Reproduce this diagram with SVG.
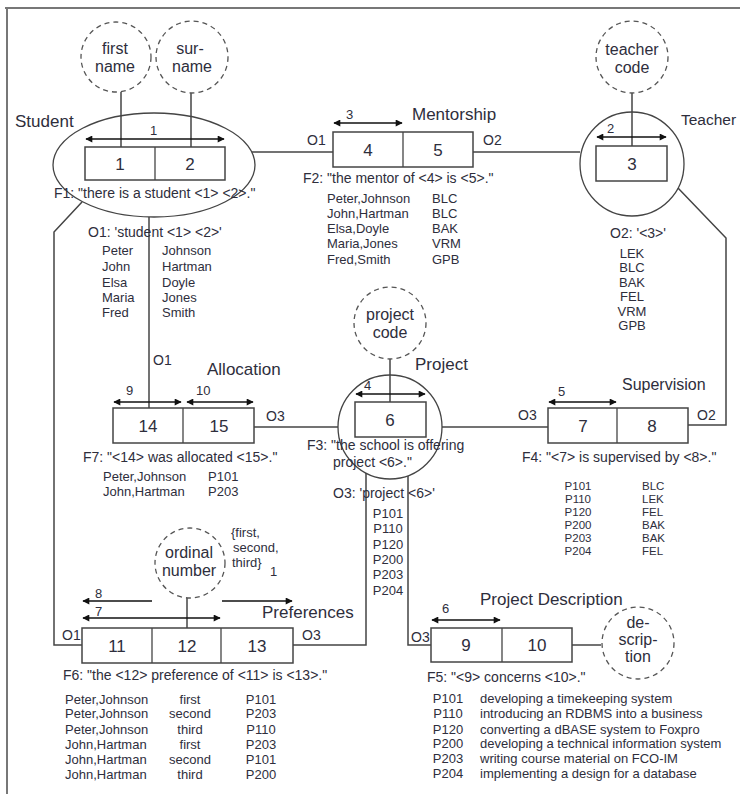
<svg xmlns="http://www.w3.org/2000/svg" width="740" height="794" viewBox="0 0 740 794">
<style>
text{font-family:"Liberation Sans",Arial,sans-serif;fill:#2e2e3c}
.t{font-size:17px}
.n{font-size:17px;text-anchor:middle}
.c{font-size:16px;text-anchor:middle}
.l{font-size:14px}
.a{font-size:13px}
.d{font-size:13px}
.s{font-size:11.5px}
.m{text-anchor:middle}
.box{fill:#fff;stroke:#444;stroke-width:1.5}
.div{stroke:#444;stroke-width:1.3}
.ent{fill:none;stroke:#444;stroke-width:1.3}
.lbl{fill:#fff;stroke:#555;stroke-width:1.3;stroke-dasharray:5 4}
.ln{fill:none;stroke:#444;stroke-width:1.5}
.arr{stroke:#111;stroke-width:1.5;marker-end:url(#ah);marker-start:url(#ah)}
.arr1{stroke:#111;stroke-width:1.5;marker-end:url(#ah)}
</style>
<defs>
<marker id="ah" viewBox="0 0 10 10" refX="9" refY="5" markerWidth="8" markerHeight="7" markerUnits="userSpaceOnUse" orient="auto-start-reverse">
<path d="M0,0 L10,5 L0,10 z" fill="#111"/>
</marker>
</defs>
<g id="frame">
<path d="M5,8 H740 M7,8 V794" fill="none" stroke="#777" stroke-width="2"/>
</g>
<g id="connectors">
<path class="ln" d="M121,92 V147"/>
<path class="ln" d="M191,92 V147"/>
<path class="ln" d="M632,92 V146"/>
<path class="ln" d="M390,358 V402"/>
<path class="ln" d="M187,598 V628"/>
<path class="ln" d="M572,645 H601"/>
<path class="ln" d="M252,152 H333"/>
<path class="ln" d="M473,152 H580"/>
<path class="ln" d="M149,217 V408"/>
<path class="ln" d="M82,202 L54,232 V645 H82"/>
<path class="ln" d="M254,427 H338"/>
<path class="ln" d="M442,427 H548"/>
<path class="ln" d="M688,425 H726 V238 L678,188"/>
<path class="ln" d="M366,473 V645 H293"/>
<path class="ln" d="M408,476 V645 H431"/>
</g>
<g id="student">
<ellipse class="ent" cx="154" cy="165" rx="101" ry="52"/>
<rect class="box" x="85" y="147" width="140" height="33"/>
<line class="div" x1="155" y1="147" x2="155" y2="180"/>
<text class="n" x="120" y="170">1</text>
<text class="n" x="190" y="170">2</text>
<line class="arr" x1="86" y1="139" x2="224" y2="139"/>
<text class="a" x="150" y="135">1</text>
<text class="t" x="15" y="127">Student</text>
<text class="l" x="54" y="198">F1: "there is a student &lt;1&gt; &lt;2&gt;."</text>
<text class="l" x="88" y="237">O1: 'student &lt;1&gt; &lt;2&gt;'</text>
<text class="d" x="102" y="255">Peter</text>
<text class="d" x="102" y="271">John</text>
<text class="d" x="102" y="287">Elsa</text>
<text class="d" x="102" y="302">Maria</text>
<text class="d" x="102" y="317">Fred</text>
<text class="d" x="162" y="255">Johnson</text>
<text class="d" x="162" y="271">Hartman</text>
<text class="d" x="162" y="287">Doyle</text>
<text class="d" x="162" y="302">Jones</text>
<text class="d" x="162" y="317">Smith</text>
</g>
<g id="first-name">
<circle class="lbl" cx="116" cy="57" r="35"/>
<text class="c" x="115" y="54">first</text>
<text class="c" x="115" y="72">name</text>
</g>
<g id="surname">
<circle class="lbl" cx="192" cy="57" r="36"/>
<text class="c" x="190" y="54">sur-</text>
<text class="c" x="192" y="72">name</text>
</g>
<g id="mentorship">
<rect class="box" x="333" y="132" width="140" height="35"/>
<line class="div" x1="403" y1="132" x2="403" y2="167"/>
<text class="n" x="368" y="156">4</text>
<text class="n" x="438" y="156">5</text>
<line class="arr" x1="334" y1="123" x2="402" y2="123"/>
<text class="a" x="346" y="119">3</text>
<text class="t" x="412" y="120">Mentorship</text>
<text class="l" x="307" y="145">O1</text>
<text class="l" x="483" y="145">O2</text>
<text class="l" x="303" y="183">F2: "the mentor of &lt;4&gt; is &lt;5&gt;."</text>
<text class="d" x="327" y="203">Peter,Johnson</text>
<text class="d" x="327" y="218">John,Hartman</text>
<text class="d" x="327" y="233">Elsa,Doyle</text>
<text class="d" x="327" y="248">Maria,Jones</text>
<text class="d" x="327" y="264">Fred,Smith</text>
<text class="d" x="432" y="203">BLC</text>
<text class="d" x="432" y="218">BLC</text>
<text class="d" x="432" y="233">BAK</text>
<text class="d" x="432" y="248">VRM</text>
<text class="d" x="432" y="264">GPB</text>
</g>
<g id="teacher">
<circle class="ent" cx="632" cy="164" r="52"/>
<rect class="box" x="596" y="146" width="71" height="35"/>
<text class="n" x="632" y="170">3</text>
<line class="arr" x1="597" y1="137" x2="666" y2="137"/>
<text class="a" x="607" y="133">2</text>
<text class="t" x="681" y="125" style="font-size:15.5px">Teacher</text>
<text class="l" x="610" y="238">O2: '&lt;3&gt;'</text>
<text class="d m" x="632" y="258">LEK</text>
<text class="d m" x="632" y="272">BLC</text>
<text class="d m" x="632" y="287">BAK</text>
<text class="d m" x="632" y="301">FEL</text>
<text class="d m" x="632" y="316">VRM</text>
<text class="d m" x="632" y="330">GPB</text>
</g>
<g id="teacher-code">
<circle class="lbl" cx="632" cy="57" r="36"/>
<text class="c" x="632" y="55">teacher</text>
<text class="c" x="632" y="73">code</text>
</g>
<g id="allocation">
<rect class="box" x="113" y="408" width="141" height="35"/>
<line class="div" x1="183" y1="408" x2="183" y2="443"/>
<text class="n" x="148" y="432">14</text>
<text class="n" x="219" y="432">15</text>
<line class="arr" x1="114" y1="402" x2="181" y2="402"/>
<line class="arr" x1="187" y1="402" x2="253" y2="402"/>
<text class="a" x="126" y="395">9</text>
<text class="a" x="196" y="395">10</text>
<text class="t" x="207" y="375">Allocation</text>
<text class="l" x="153" y="365">O1</text>
<text class="l" x="266" y="421">O3</text>
<text class="l" x="83" y="462">F7: "&lt;14&gt; was allocated &lt;15&gt;."</text>
<text class="d" x="103" y="481">Peter,Johnson</text>
<text class="d" x="103" y="496">John,Hartman</text>
<text class="d" x="208" y="481">P101</text>
<text class="d" x="208" y="496">P203</text>
</g>
<g id="project">
<circle class="ent" cx="390" cy="427" r="52"/>
<rect class="box" x="355" y="402" width="71" height="35"/>
<text class="n" x="390" y="426">6</text>
<line class="arr" x1="356" y1="394" x2="425" y2="394"/>
<text class="a" x="364" y="390">4</text>
<text class="t" x="415" y="370">Project</text>
<text class="l" x="307" y="450">F3: "the school is offering</text>
<text class="l" x="333" y="467">project &lt;6&gt;."</text>
<text class="l" x="333" y="498">O3: 'project &lt;6&gt;'</text>
<text class="d m" x="388" y="518">P101</text>
<text class="d m" x="388" y="533">P110</text>
<text class="d m" x="388" y="549">P120</text>
<text class="d m" x="388" y="564">P200</text>
<text class="d m" x="388" y="579">P203</text>
<text class="d m" x="388" y="595">P204</text>
</g>
<g id="project-code">
<circle class="lbl" cx="390" cy="323" r="36"/>
<text class="c" x="390" y="320">project</text>
<text class="c" x="390" y="338">code</text>
</g>
<g id="supervision">
<rect class="box" x="548" y="408" width="140" height="35"/>
<line class="div" x1="617" y1="408" x2="617" y2="443"/>
<text class="n" x="583" y="432">7</text>
<text class="n" x="652" y="432">8</text>
<line class="arr" x1="549" y1="402" x2="616" y2="402"/>
<text class="a" x="558" y="396">5</text>
<text class="t" x="622" y="390" style="font-size:16px">Supervision</text>
<text class="l" x="518" y="420">O3</text>
<text class="l" x="697" y="420">O2</text>
<text class="l" x="522" y="462">F4: "&lt;7&gt; is supervised by &lt;8&gt;."</text>
<text class="s m" x="578" y="490">P101</text>
<text class="s m" x="578" y="503">P110</text>
<text class="s m" x="578" y="516">P120</text>
<text class="s m" x="578" y="529">P200</text>
<text class="s m" x="578" y="542">P203</text>
<text class="s m" x="578" y="555">P204</text>
<text class="s" x="642" y="490">BLC</text>
<text class="s" x="642" y="503">LEK</text>
<text class="s" x="642" y="516">FEL</text>
<text class="s" x="642" y="529">BAK</text>
<text class="s" x="642" y="542">BAK</text>
<text class="s" x="642" y="555">FEL</text>
</g>
<g id="preferences">
<rect class="box" x="82" y="628" width="211" height="35"/>
<line class="div" x1="152" y1="628" x2="152" y2="663"/>
<line class="div" x1="221" y1="628" x2="221" y2="663"/>
<text class="n" x="117" y="652">11</text>
<text class="n" x="187" y="652">12</text>
<text class="n" x="257" y="652">13</text>
<line class="arr" x1="83" y1="618" x2="220" y2="618"/>
<line class="arr1" x1="152" y1="601" x2="83" y2="601"/>
<line class="arr1" x1="222" y1="601" x2="292" y2="601"/>
<text class="a" x="95" y="598">8</text>
<text class="a" x="95" y="616">7</text>
<text class="t" x="262" y="618">Preferences</text>
<text class="l" x="62" y="640">O1</text>
<text class="l" x="302" y="640">O3</text>
<text class="a" x="231" y="537">{first,</text>
<text class="a" x="233" y="552">second,</text>
<text class="a" x="232" y="567">third}</text>
<text class="a" x="270" y="576">1</text>
<text class="l" x="63" y="680">F6: "the &lt;12&gt; preference of &lt;11&gt; is &lt;13&gt;."</text>
<text class="d" x="65" y="704">Peter,Johnson</text>
<text class="d" x="65" y="718">Peter,Johnson</text>
<text class="d" x="65" y="734">Peter,Johnson</text>
<text class="d" x="65" y="749">John,Hartman</text>
<text class="d" x="65" y="764">John,Hartman</text>
<text class="d" x="65" y="779">John,Hartman</text>
<text class="d m" x="190" y="704">first</text>
<text class="d m" x="190" y="718">second</text>
<text class="d m" x="190" y="734">third</text>
<text class="d m" x="190" y="749">first</text>
<text class="d m" x="190" y="764">second</text>
<text class="d m" x="190" y="779">third</text>
<text class="d m" x="261" y="704">P101</text>
<text class="d m" x="261" y="718">P203</text>
<text class="d m" x="261" y="734">P110</text>
<text class="d m" x="261" y="749">P203</text>
<text class="d m" x="261" y="764">P101</text>
<text class="d m" x="261" y="779">P200</text>
</g>
<g id="ordinal-number">
<circle class="lbl" cx="190" cy="563" r="35"/>
<text class="c" x="189" y="558">ordinal</text>
<text class="c" x="189" y="576">number</text>
</g>
<g id="project-description">
<rect class="box" x="431" y="628" width="141" height="34"/>
<line class="div" x1="502" y1="628" x2="502" y2="662"/>
<text class="n" x="466" y="651">9</text>
<text class="n" x="537" y="651">10</text>
<line class="arr" x1="432" y1="620" x2="500" y2="620"/>
<text class="a" x="442" y="613">6</text>
<text class="t" x="480" y="605">Project Description</text>
<text class="l" x="411" y="642">O3</text>
<text class="l" x="427" y="682">F5: "&lt;9&gt; concerns &lt;10&gt;."</text>
<text class="d m" x="448" y="703">P101</text>
<text class="d m" x="448" y="718">P110</text>
<text class="d m" x="448" y="734">P120</text>
<text class="d m" x="448" y="748">P200</text>
<text class="d m" x="448" y="763">P203</text>
<text class="d m" x="448" y="778">P204</text>
<text class="d" x="480" y="703">developing a timekeeping system</text>
<text class="d" x="480" y="718">introducing an RDBMS into a business</text>
<text class="d" x="480" y="734">converting a dBASE system to Foxpro</text>
<text class="d" x="480" y="748">developing a technical information system</text>
<text class="d" x="480" y="763">writing course material on FCO-IM</text>
<text class="d" x="480" y="778">implementing a design for a database</text>
</g>
<g id="description">
<circle class="lbl" cx="638" cy="643" r="36"/>
<text class="c" x="638" y="628">de-</text>
<text class="c" x="638" y="645">scrip-</text>
<text class="c" x="638" y="662">tion</text>
</g>
</svg>
